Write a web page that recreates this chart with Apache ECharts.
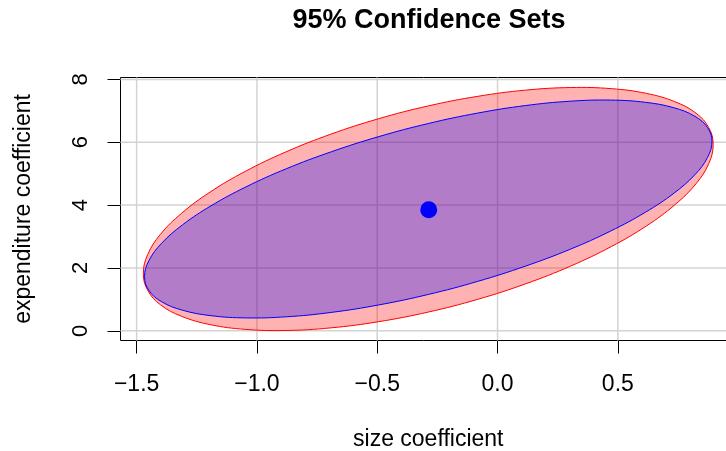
<!DOCTYPE html>
<html>
<head>
<meta charset="utf-8">
<script src="https://cdn.jsdelivr.net/npm/echarts@6/dist/echarts.min.js"></script>
<style>
html,body{margin:0;padding:0;background:#ffffff;}
#chart{width:726px;height:451px;}
</style>
</head>
<body>
<div id="chart"></div>
<script>
// ---- Text ----
const titleText = '95% Confidence Sets';
const xAxisName = 'size coefficient';
const yAxisName = 'expenditure coefficient';

// ---- Axis ticks ----
const xTicks = [-1.5, -1.0, -0.5, 0.0, 0.5];
const xTickLabels = ['\u22121.5', '\u22121.0', '\u22120.5', '0.0', '0.5'];
const yTicks = [0, 2, 4, 6, 8];
const yTickLabels = ['0', '2', '4', '6', '8'];
const xRange = [-1.567, 0.991];
const yRange = [-0.31, 8.06];

// ---- Red confidence set boundary ----
const redX = [0.896, 0.878, 0.825, 0.737, 0.619, 0.473, 0.304, 0.117, -0.082, -0.288,
  -0.494, -0.693, -0.880, -1.049, -1.195, -1.313, -1.401, -1.454, -1.472,
  -1.454, -1.401, -1.313, -1.195, -1.049, -0.880, -0.693, -0.494, -0.288,
  -0.082, 0.117, 0.304, 0.473, 0.619, 0.737, 0.825, 0.878];
const redY = [5.925, 6.463, 6.923, 7.290, 7.554, 7.705, 7.741, 7.658, 7.461, 7.155,
  6.749, 6.256, 5.691, 5.070, 4.413, 3.740, 3.070, 2.426, 1.825,
  1.287, 0.827, 0.460, 0.196, 0.045, 0.009, 0.092, 0.289, 0.595,
  1.001, 1.494, 2.059, 2.680, 3.337, 4.010, 4.680, 5.324];

// ---- Blue confidence set boundary ----
const blueX = [0.891, 0.873, 0.820, 0.733, 0.615, 0.470, 0.302, 0.115, -0.083, -0.288,
  -0.493, -0.691, -0.878, -1.046, -1.191, -1.309, -1.396, -1.449, -1.467,
  -1.449, -1.396, -1.309, -1.191, -1.046, -0.878, -0.691, -0.493, -0.288,
  -0.083, 0.115, 0.302, 0.470, 0.615, 0.733, 0.820, 0.873];
const blueY = [6.025, 6.465, 6.826, 7.097, 7.270, 7.341, 7.306, 7.166, 6.927, 6.595,
  6.180, 5.696, 5.156, 4.577, 3.976, 3.373, 2.785, 2.230, 1.725,
  1.285, 0.924, 0.653, 0.480, 0.409, 0.444, 0.584, 0.823, 1.155,
  1.570, 2.054, 2.594, 3.173, 3.774, 4.377, 4.965, 5.520];

// ---- Point estimate ----
const pointX = [-0.286];
const pointY = [3.85];

const FONT = 'Liberation Sans, Arial, Helvetica, sans-serif';

function labelFor(ticks, labels) {
  return function (v) {
    let best = 0;
    for (let i = 1; i < ticks.length; i++) {
      if (Math.abs(ticks[i] - v) < Math.abs(ticks[best] - v)) best = i;
    }
    return labels[best];
  };
}

function ellipseSeries(name, xs, ys, fill, stroke, z) {
  return {
    name: name,
    type: 'custom',
    coordinateSystem: 'cartesian2d',
    z: z,
    silent: true,
    clip: true,
    data: [[xs[0], ys[0]]],
    renderItem: function (params, api) {
      const pts = xs.map(function (x, i) { return api.coord([x, ys[i]]); });
      return {
        type: 'polygon',
        shape: { points: pts, smooth: 0.4 },
        style: { fill: fill, stroke: stroke, lineWidth: 1 }
      };
    }
  };
}

const chart = echarts.init(document.getElementById('chart'), null, { renderer: 'canvas' });

const option = {
  animation: false,
  backgroundColor: '#ffffff',
  graphic: [{
    type: 'text',
    x: 429, y: 20.5,
    style: {
      text: titleText,
      fill: '#000',
      font: 'bold 27px ' + FONT,
      textAlign: 'center',
      textVerticalAlign: 'middle'
    }
  }],
  grid: {
    left: 120.5, top: 77.5, width: 615.5, bottom: 110.5,
    outerBoundsMode: 'none',
    containLabel: false,
    show: true, borderColor: '#000000', borderWidth: 1,
    backgroundColor: 'transparent'
  },
  xAxis: {
    type: 'value',
    position: 'bottom',
    min: xRange[0], max: xRange[1],
    name: xAxisName,
    nameLocation: 'middle',
    nameGap: 87.5,
    nameTextStyle: { fontFamily: FONT, fontSize: 23, color: '#000' },
    axisLine: { show: false, onZero: false },
    axisTick: { show: true, customValues: xTicks, length: 13, inside: false,
      lineStyle: { color: '#000', width: 1 } },
    axisLabel: { show: true, customValues: xTicks, margin: 33, hideOverlap: false,
      fontFamily: FONT, fontSize: 23, color: '#000',
      formatter: labelFor(xTicks, xTickLabels) },
    splitLine: { show: false }
  },
  yAxis: {
    type: 'value',
    position: 'left',
    min: yRange[0], max: yRange[1],
    name: yAxisName,
    nameLocation: 'middle',
    nameGap: 85.5,
    nameRotate: 90,
    nameTextStyle: { fontFamily: FONT, fontSize: 23, color: '#000' },
    axisLine: { show: false, onZero: false },
    axisTick: { show: true, customValues: yTicks, length: 13, inside: false,
      lineStyle: { color: '#000', width: 1 } },
    axisLabel: { show: true, customValues: yTicks, margin: 28.5, rotate: 90, hideOverlap: false,
      fontFamily: FONT, fontSize: 22, color: '#000',
      formatter: labelFor(yTicks, yTickLabels) },
    splitLine: { show: false }
  },
  series: [
    {
      name: 'gridV',
      type: 'custom',
      coordinateSystem: 'cartesian2d',
      z: 1,
      silent: true,
      data: xTicks.map(function (v) { return [v, yTicks[0]]; }),
      renderItem: function (params, api) {
        const cs = params.coordSys;
        const px = api.coord([api.value(0), api.value(1)])[0];
        return { type: 'line', shape: { x1: px, y1: cs.y, x2: px, y2: cs.y + cs.height },
          style: { stroke: '#d3d3d3', lineWidth: 1.5 } };
      }
    },
    {
      name: 'gridH',
      type: 'custom',
      coordinateSystem: 'cartesian2d',
      z: 1,
      silent: true,
      data: yTicks.map(function (v) { return [xTicks[0], v]; }),
      renderItem: function (params, api) {
        const cs = params.coordSys;
        const py = api.coord([api.value(0), api.value(1)])[1];
        return { type: 'line', shape: { x1: cs.x, y1: py, x2: cs.x + cs.width, y2: py },
          style: { stroke: '#d3d3d3', lineWidth: 1.5 } };
      }
    },
    ellipseSeries('red set', redX, redY, 'rgba(255,0,0,0.3)', '#ff0000', 2),
    ellipseSeries('blue set', blueX, blueY, 'rgba(0,0,255,0.3)', '#0000ff', 3),
    {
      name: 'estimate',
      type: 'scatter',
      z: 4,
      silent: true,
      symbol: 'circle',
      symbolSize: 17,
      itemStyle: { color: '#0000ff', opacity: 1 },
      data: pointX.map(function (x, i) { return [x, pointY[i]]; })
    }
  ]
};

chart.setOption(option);
</script>
</body>
</html>
